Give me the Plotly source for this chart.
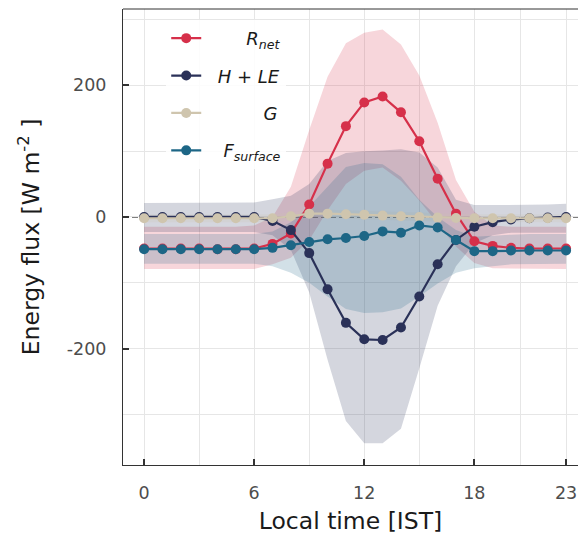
import plotly.graph_objects as go

hours = list(range(24))

r_net = [-48, -48, -48, -48, -49, -49, -48, -41, -25, 19, 81, 138, 174, 183, 159, 115, 58, 5, -37, -44, -47, -48, -48, -48]
r_net_hi = [-15, -15, -15, -15, -15, -15, -13, 0, 46, 132, 213, 264, 280, 285, 262, 215, 143, 56, 8, -13, -15, -15, -15, -15]
r_net_lo = [-79, -79, -79, -79, -79, -79, -79, -72, -62, -35, 10, 50, 70, 75, 55, 25, -10, -45, -70, -78, -79, -79, -79, -79]

h_le = [0, 0, 0, 0, 0, 0, 0, -6, -20, -55, -110, -161, -186, -187, -168, -121, -72, -35, -15, -8, -4, -2, -1, 0]
h_le_hi = [21, 21, 21, 21, 21, 21, 22, 27, 32, 50, 85, 97, 100, 101, 103, 98, 75, 26, 18, 18, 18, 18, 19, 20]
h_le_lo = [-23, -23, -23, -23, -23, -23, -23, -28, -50, -115, -217, -310, -344, -344, -322, -230, -135, -75, -40, -28, -24, -24, -24, -24]

g = [-2, -2, -2, -2, -2, -2, -2, -2, 1, 5, 5, 4, 3.5, 2, 1, 0, -1, -1.5, -2, -2, -2, -2, -2, -2]
g_hi = [4, 4, 4, 4, 4, 4, 4, 4, 7, 11, 11, 10, 10, 8, 7, 6, 5, 4.5, 4, 4, 4, 4, 4, 4]
g_lo = [-8, -8, -8, -8, -8, -8, -8, -8, -5, -1, -1, -2, -3, -4, -5, -6, -7, -7.5, -8, -8, -8, -8, -8, -8]

f_surf = [-49, -49, -49, -49, -49, -49, -49, -47, -43, -38, -34, -32, -29, -22, -24, -13, -16, -35, -52, -52, -51, -51, -51, -51]
f_surf_hi = [-26, -26, -26, -26, -26, -26, -26, -22, -8, 16, 46, 76, 82, 80, 61, 26, 0, -20, -30, -28, -27, -26, -26, -26]
f_surf_lo = [-71, -71, -71, -71, -71, -71, -71, -75, -85, -100, -121, -140, -146, -145, -139, -121, -101, -85, -78, -75, -72, -71, -71, -71]

x_ticks = [0, 6, 12, 18, 23]
x_minor = [3, 9, 15, 20.5]
y_ticks = [-200, 0, 200]
y_ticklabels = ["-200", "0", "200"]
y_minor = [-300, -100, 100, 300]

NB = "\u00a0"
series = [
    (NB * 7 + "<i>R<sub>net</sub></i>", r_net, r_net_hi, r_net_lo, "#d6304a", (214, 48, 74)),
    (NB * 2 + "<i>H + LE</i>", h_le, h_le_hi, h_le_lo, "#2a3158", (42, 49, 88)),
    (NB * 10 + "<i>G</i>", g, g_hi, g_lo, "#cfc5ae", (207, 197, 174)),
    (NB * 3 + "<i>F<sub>surface</sub></i>", f_surf, f_surf_hi, f_surf_lo, "#1d6686", (29, 102, 134)),
]

fig = go.Figure()

for name, mean, hi, lo, col, rgb in series:
    fig.add_trace(go.Scatter(
        x=hours + hours[::-1], y=hi + lo[::-1], fill="toself",
        fillcolor="rgba(%d,%d,%d,0.2)" % rgb, line=dict(width=0),
        mode="lines", hoverinfo="skip", showlegend=False))

for i, (name, mean, hi, lo, col, rgb) in enumerate(series):
    fig.add_trace(go.Scatter(
        x=hours, y=mean, mode="lines+markers", name=name,
        legendgroup="g%d" % i,
        line=dict(color=col, width=2.2), marker=dict(color=col, size=10)))

fig.add_shape(type="line", xref="paper", yref="y", x0=0, x1=1, y0=0, y1=0,
              line=dict(color="#555555", width=1.5, dash="6px,3px"), layer="below")

axis_common = dict(
    showline=True, linecolor="#333333", linewidth=1, mirror=False,
    ticks="inside", ticklen=6, tickwidth=1.5, tickcolor="#333333",
    showgrid=True, gridcolor="#e6e6e6", gridwidth=1, zeroline=False,
    tickfont=dict(family="DejaVu Sans", size=17.5, color="#4d4d4d"),
)

fig.update_layout(
    width=578, height=537,
    margin=dict(l=123, r=0, t=9, b=72),
    paper_bgcolor="white", plot_bgcolor="white",
    font=dict(family="DejaVu Sans"),
    xaxis=dict(
        range=[-1.15, 23.65], tickvals=x_ticks, ticklabelstandoff=12,
        minor=dict(tickvals=x_minor, showgrid=True, gridcolor="#e6e6e6", ticklen=0),
        title=dict(text="Local time [IST]", font=dict(size=23.5, color="#1a1a1a"), standoff=10),
        **axis_common),
    yaxis=dict(
        range=[-377, 316], tickvals=y_ticks, ticktext=y_ticklabels, ticklabelstandoff=12,
        minor=dict(tickvals=y_minor, showgrid=True, gridcolor="#e6e6e6", ticklen=0),
        title=dict(text="Energy flux [W m<sup>-2</sup> ]", font=dict(size=23.5, color="#1a1a1a"), standoff=20),
        **axis_common),
    showlegend=True,
    legend=dict(
        x=0.095, y=0.976, xanchor="left", yanchor="top",
        bgcolor="rgba(255,255,255,0.85)", borderwidth=0,
        font=dict(family="DejaVu Sans", size=18, color="#1a1a1a"),
        tracegroupgap=11, itemwidth=30),
)

# top spine
fig.add_shape(type="line", xref="paper", yref="paper", x0=0, x1=1, y0=1, y1=1,
              line=dict(color="#333333", width=1), layer="above")

fig.write_html("out.html")
